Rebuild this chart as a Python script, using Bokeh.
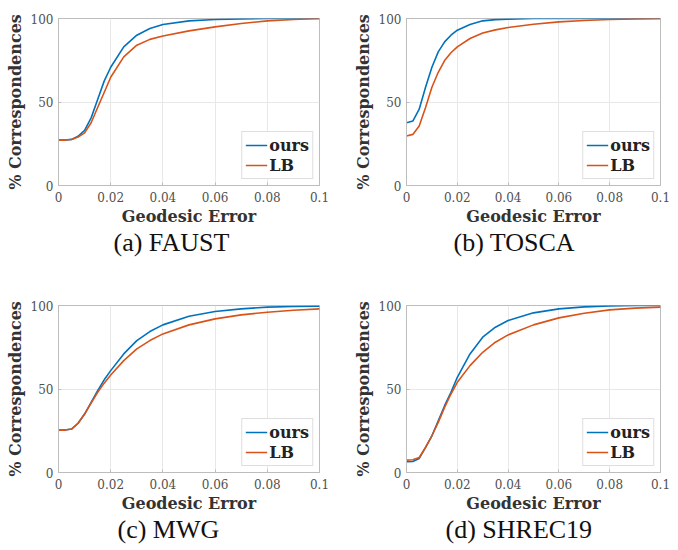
from bokeh.plotting import figure
from bokeh.layouts import gridplot
from bokeh.models import Range1d, FixedTicker, Legend, LegendItem, Title
from bokeh.embed import file_html
from bokeh.resources import INLINE

# ---------------- data ----------------
err = [0, 0.0025, 0.005, 0.0075, 0.01, 0.0125, 0.015, 0.0175, 0.02, 0.025,
       0.03, 0.035, 0.04, 0.05, 0.06, 0.07, 0.08, 0.09, 0.1]

faust_ours = [27.2, 27.2, 27.6, 29.5, 33.0, 40.5, 51.5, 62.5, 70.8, 83.0,
              90.0, 94.0, 96.4, 98.6, 99.4, 99.8, 100, 100, 100]
faust_lb = [27.2, 27.2, 27.5, 29.0, 31.5, 37.6, 46.7, 55.7, 64.8, 77.0,
            84.0, 87.5, 89.5, 92.6, 95.0, 97.0, 98.6, 99.4, 100]

tosca_ours = [37.6, 38.6, 45.7, 58.8, 70.8, 80.0, 86.0, 90.0, 93.0, 96.4,
              98.6, 99.3, 99.6, 100, 100, 100, 100, 100, 100]
tosca_lb = [29.6, 30.6, 35.6, 46.7, 58.8, 67.8, 74.8, 79.5, 83.0, 88.0,
            91.3, 93.2, 94.6, 96.6, 98.0, 98.8, 99.4, 99.8, 100]

mwg_ours = [25.4, 25.4, 26.0, 29.5, 35.0, 42.0, 49.0, 55.5, 61.0, 71.0,
            79.0, 84.4, 88.4, 93.6, 96.4, 98.0, 99.0, 99.4, 99.6]
mwg_lb = [25.4, 25.4, 26.0, 29.5, 35.0, 41.5, 48.0, 53.5, 58.4, 67.0,
          74.0, 79.0, 83.0, 88.4, 92.0, 94.4, 96.0, 97.2, 98.0]

shrec_ours = [6.4, 6.6, 8.4, 15.0, 22.0, 31.0, 40.0, 48.0, 57.0, 71.0,
              81.0, 87.0, 91.0, 95.6, 98.0, 99.2, 99.8, 100, 100]
shrec_lb = [7.4, 7.6, 9.0, 15.0, 22.0, 30.0, 39.0, 47.0, 54.0, 64.0,
            72.0, 78.0, 82.4, 88.4, 92.6, 95.4, 97.4, 98.4, 99.0]

captions = ["(a) FAUST", "(b) TOSCA", "(c) MWG", "(d) SHREC19"]
series_names = ["ours", "LB"]
x_ticks = [0, 0.02, 0.04, 0.06, 0.08, 0.1]
x_tick_labels = ["0", "0.02", "0.04", "0.06", "0.08", "0.1"]
y_ticks = [0, 50, 100]
x_label = "Geodesic Error"
y_label = "% Correspondences"

BLUE = "#0072BD"
ORANGE = "#D95319"
AXCOL = "#bdbdbd"
SERIF = "DejaVu Serif"


def panel(ours, lb, caption, w, h, bl, br, bt, bb, cap_off):
    p = figure(width=w, height=h, output_backend="svg", toolbar_location=None,
               x_range=Range1d(0, 0.1), y_range=Range1d(0, 100),
               min_border_left=bl, min_border_right=br,
               min_border_top=bt, min_border_bottom=bb)
    p.background_fill_color = "white"
    p.border_fill_color = "white"
    p.outline_line_color = AXCOL
    p.outline_line_width = 1

    r1 = p.line(err, ours, line_color=BLUE, line_width=1.6)
    r2 = p.line(err, lb, line_color=ORANGE, line_width=1.6)

    p.xaxis.ticker = FixedTicker(ticks=x_ticks)
    p.xaxis.major_label_overrides = dict(zip(x_ticks, x_tick_labels))
    p.yaxis.ticker = FixedTicker(ticks=y_ticks)
    for ax in (p.xaxis, p.yaxis):
        ax.axis_line_color = AXCOL
        ax.major_tick_line_color = AXCOL
        ax.major_tick_in = 3
        ax.major_tick_out = 0
        ax.minor_tick_line_color = None
        ax.major_label_text_font = SERIF
        ax.major_label_text_font_size = "12px"
        ax.major_label_text_color = "#505050"
        ax.axis_label_text_font = SERIF
        ax.axis_label_text_font_style = "bold"
        ax.axis_label_text_font_size = "16px"
        ax.axis_label_text_color = "#333333"
    p.yaxis.axis_label = y_label
    p.xaxis.major_label_standoff = 6
    p.yaxis.major_label_standoff = 5
    p.yaxis.axis_label_standoff = 3

    p.xgrid.grid_line_color = "#e8e8e8"
    p.ygrid.grid_line_color = "#e8e8e8"

    legend = Legend(items=[LegendItem(label=series_names[0], renderers=[r1]),
                           LegendItem(label=series_names[1], renderers=[r2])],
                    location="bottom_right", margin=6, padding=3, spacing=0,
                    glyph_width=22, glyph_height=20, label_height=20,
                    label_standoff=2,
                    label_text_font=SERIF, label_text_font_style="bold",
                    label_text_font_size="16px", label_text_color="#222222",
                    border_line_color=AXCOL, background_fill_alpha=1.0)
    p.add_layout(legend)

    xl = Title(text=x_label, align="center", standoff=0,
               text_font=SERIF, text_font_size="16px",
               text_font_style="bold", text_color="#333333")
    p.add_layout(xl, "below")
    cap = Title(text=caption, align="left", offset=cap_off, standoff=0,
                text_font="Liberation Serif", text_font_size="26px",
                text_font_style="normal", text_color="#111111")
    p.add_layout(cap, "below")
    return p


pa = panel(faust_ours, faust_lb, captions[0], 338, 274, 58, 19, 18, 89, 55)
pb = panel(tosca_ours, tosca_lb, captions[1], 338, 274, 68, 8, 18, 89, 47)
pc = panel(mwg_ours, mwg_lb, captions[2], 338, 274, 58, 19, 31, 76, 59)
pd = panel(shrec_ours, shrec_lb, captions[3], 338, 274, 61, 16, 31, 76, 39)

grid = gridplot([[pa, pb], [pc, pd]], toolbar_location=None)

open("out.html", "w").write(file_html(grid, INLINE))
